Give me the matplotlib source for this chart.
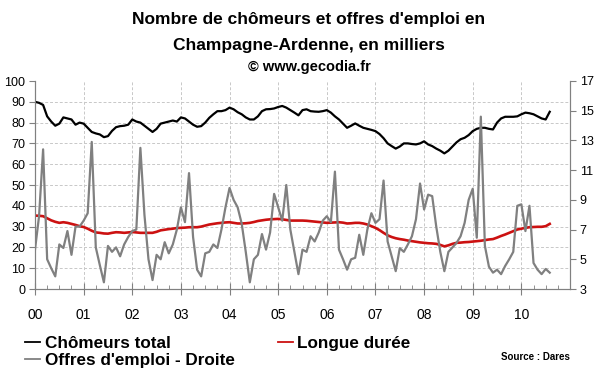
import matplotlib
matplotlib.use('Agg')
from matplotlib import pyplot as plt
from matplotlib.ticker import MultipleLocator
from matplotlib.lines import Line2D
import numpy as np

plt.rcParams['font.family'] = ['Liberation Sans', 'DejaVu Sans']

# months since Jan 2000
year_labels = ['00', '01', '02', '03', '04', '05', '06', '07', '08', '09', '10']

chomeurs_total = [
    90, 89.5, 88.5, 83, 80.5, 78.5, 79.5, 82.5, 82, 81.5, 79, 80,
    79.5, 77.5, 75.5, 74.8, 74.3, 73, 73.5, 76, 77.8, 78.3, 78.5, 79,
    81.5, 80.5, 80, 78.5, 77, 75.5, 77, 79.5, 80, 80.5, 81, 80.5,
    82.5, 82, 80.5, 79, 78, 78.3, 80, 82.3, 84, 85.5, 85.5, 86,
    87.2, 86.4, 85, 84, 82.5, 81.5, 81.5, 83, 85.5, 86.4, 86.5, 86.8,
    87.5, 88, 87.2, 86, 84.8, 83.5, 86, 86.4, 85.5, 85.3, 85.2, 85.5,
    86, 84.8, 83, 81.5, 79.5, 77.5, 78.5, 79.6, 78.5, 77.5, 77, 76.5,
    75.9, 74.5, 72.5, 70, 68.7, 67.5, 68.5, 70, 70, 69.7, 69.5, 70,
    71, 69.5, 68.7, 67.5, 66.5, 65.2, 66.5, 68.5, 70.5, 72, 72.7, 74,
    75.9, 77, 77.5, 77.5, 77, 76.7, 80, 82, 82.8, 82.8, 82.8, 83,
    84, 84.8, 84.5, 84, 83, 82, 81.5, 85.2,
]

longue_duree = [
    35.3, 35.2, 35, 34, 33, 32.3, 31.8, 32.1, 31.8, 31.3, 30.8, 30.2,
    29.8, 29, 28, 27.2, 27, 26.7, 26.6, 27, 27.3, 27.2, 27, 27.2,
    27.4, 27.2, 27, 27, 27, 27, 27.5, 28.2, 28.5, 28.8, 29, 29.3,
    29.4, 29.5, 29.7, 29.7, 29.7, 30, 30.5, 31, 31.3, 31.6, 31.8, 32,
    32.1, 31.8, 31.5, 31.5, 31.6, 31.8, 32.2, 32.7, 33, 33.3, 33.5, 33.6,
    33.7, 33.5, 33.2, 32.9, 32.9, 32.9, 32.9, 32.8, 32.6, 32.4, 32.2, 32,
    31.8, 31.9, 32, 32.1, 31.9, 31.5, 31.6, 31.8, 31.8, 31.5, 31, 30.2,
    29.4, 28.3, 27, 25.8, 25, 24.4, 24, 23.7, 23.3, 23, 22.7, 22.4,
    22.2, 22, 21.9, 21.7, 21.2, 20.5, 21, 21.7, 22.2, 22.3, 22.5, 22.6,
    22.8, 23, 23.2, 23.5, 23.8, 24, 24.7, 25.5, 26.2, 27, 27.8, 28.6,
    29, 29.4, 29.7, 29.8, 29.9, 29.9, 30.2, 31.3,
]

# right axis
offres_emploi = [
    5.65, 7.9, 12.4, 5.0, 4.4, 3.85, 6.0, 5.76, 6.9, 5.3, 7.2, 7.2,
    7.6, 8.1, 12.9, 5.8, 4.6, 3.45, 5.9, 5.5, 5.8, 5.2, 6.0, 6.5,
    6.9, 7.0, 12.5, 8.0, 5.0, 3.6, 5.3, 5.0, 6.15, 5.4, 6.0, 7.0,
    8.5, 7.5, 10.8, 6.5, 4.3, 3.85, 5.4, 5.5, 6.0, 5.76, 7.0, 8.5,
    9.8, 9.0, 8.5, 7.4, 5.5, 3.45, 5.0, 5.3, 6.7, 5.65, 6.8, 9.4,
    8.5, 7.6, 10.0, 7.0, 5.5, 4.0, 5.65, 5.5, 6.55, 6.2, 6.8, 7.6,
    7.9, 7.5, 10.9, 5.65, 5.0, 4.3, 5.0, 5.1, 6.65, 5.3, 7.0, 8.1,
    7.45, 7.7, 10.3, 6.2, 5.2, 4.2, 5.75, 5.5, 6.0, 6.55, 7.7, 10.1,
    8.35, 9.35, 9.25, 7.2, 5.5, 4.2, 5.5, 5.8, 6.1, 6.55, 7.45, 9.0,
    9.75, 6.45, 14.6, 5.9, 4.5, 4.1, 4.3, 4.0, 4.55, 5.0, 5.5, 8.6,
    8.7, 6.9, 8.6, 4.75, 4.3, 4.0, 4.35, 4.1,
]

months = np.arange(len(chomeurs_total))

black = 'black'
red = '#cc1111'
gray = '#808080'

fig = plt.figure(figsize=(6, 3.72), dpi=100)
ax = fig.add_axes([35/600, 1 - 289/372, 535/600, 208/372])
ax2 = ax.twinx()

grid_col = '#c8c8c8'
axis_col = '#808080'

for v in range(10, 100, 10):
    ax.axhline(v, color=grid_col, lw=0.7, ls=(0, (3, 2)), zorder=0)
for m in range(12, 132, 12):
    ax.axvline(m, color=grid_col, lw=0.7, ls=(0, (3, 2)), zorder=0)

ax.plot(months, chomeurs_total, color=black, lw=1.6, zorder=3)
ax.plot(months, longue_duree, color=red, lw=1.9, zorder=3)
ax2.plot(months, offres_emploi, color=gray, lw=1.6, zorder=2)

ax.set_xlim(0, 132)
ax.set_ylim(0, 100)
ax2.set_ylim(3, 17)
ax.set_yticks(range(0, 101, 10))
ax2.set_yticks(range(3, 18, 2))
ax.set_xticks(range(0, 132, 12))
ax.set_xticklabels(year_labels)
ax.xaxis.set_minor_locator(MultipleLocator(3))

for a in (ax, ax2):
    a.spines['top'].set_visible(False)
    for s in ('left', 'right', 'bottom'):
        a.spines[s].set_color(axis_col)
ax.tick_params(axis='x', which='major', direction='inout', length=8,
               color=axis_col, labelsize=10, pad=10)
ax.tick_params(axis='x', which='minor', direction='in', length=3,
               color=axis_col)
ax.tick_params(axis='y', direction='out', length=4, color=axis_col,
               labelsize=9, pad=3)
ax2.tick_params(axis='y', direction='out', length=4, color=axis_col,
                labelsize=9, pad=3)

fig.text(0.515, 0.948, "Nombre de chômeurs et offres d'emploi en",
         ha='center', va='center', fontsize=12.5, fontweight='bold')
fig.text(0.515, 0.879, "Champagne-Ardenne, en milliers",
         ha='center', va='center', fontsize=12.5, fontweight='bold')
fig.text(0.515, 0.820, "© www.gecodia.fr",
         ha='center', va='center', fontsize=10.5, fontweight='bold')

# legend handles: thinner lines than the plot
handles = [Line2D([], [], color=black, lw=1.3),
           Line2D([], [], color=gray, lw=1.3),
           Line2D([], [], color=red, lw=1.3)]
fig.legend(handles,
           ['Chômeurs total', "Offres d'emploi - Droite", 'Longue durée'],
           ncol=2, loc='upper left', bbox_to_anchor=(0.042, 0.096),
           frameon=False, handlelength=0.88, handletextpad=0.25,
           columnspacing=2.55, labelspacing=0.12, borderaxespad=0,
           borderpad=0, prop={'weight': 'bold', 'size': 12.3})

fig.text(0.95, 0.04, 'Source : Dares', ha='right', va='center',
         fontsize=7, fontweight='bold')

plt.savefig('out.png', dpi=100)
